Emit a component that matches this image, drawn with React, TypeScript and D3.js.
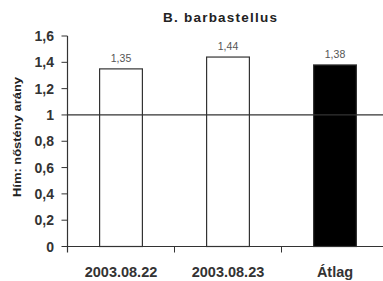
import React from "react";
import * as d3 from "d3";

const categories = ["2003.08.22", "2003.08.23", "Átlag"];
const values = [1.35, 1.44, 1.38];
const valueLabels = ["1,35", "1,44", "1,38"];
const fills = ["#ffffff", "#ffffff", "#000000"];
const yTicks = [0, 0.2, 0.4, 0.6, 0.8, 1, 1.2, 1.4, 1.6];
const refValue = 1;

export default function App() {
  const W = 383, H = 281;
  const x0 = 67.5, top = 36, bottom = 246.5;
  const x = d3.scaleBand().domain(categories).range([x0, x0 + 3 * 107]).paddingInner(0.6).paddingOuter(0.3);
  const y = d3.scaleLinear().domain([0, 1.6]).range([bottom, top]);
  const fmt = (v: number) => (v === 0 || v === 1 ? String(v) : v.toFixed(1).replace(".", ","));
  const step = x.step();
  return (
    <svg width={W} height={H} style={{ position: "absolute", left: 0, top: 0, background: "#fff" }} fontFamily="Liberation Sans, Arial, sans-serif">
      <text x={220} y={22} textAnchor="middle" fontSize={13.5} fontWeight="bold" fill="#222" textLength={114} lengthAdjust="spacing">B. barbastellus</text>
      <text transform={`translate(21,137) rotate(-90)`} textAnchor="middle" fontSize={11} fontWeight="bold" fill="#222" textLength={120} lengthAdjust="spacingAndGlyphs">Hím: nőstény arány</text>
      {yTicks.map((t) => (
        <g key={t}>
          <line x1={x0 - 6} x2={x0} y1={y(t)} y2={y(t)} stroke="#333" />
          <text x={54} y={y(t)} dy="0.36em" textAnchor="end" fontSize={14} fontWeight="bold" fill="#333">{fmt(t)}</text>
        </g>
      ))}
      {categories.map((c, i) => (
        <g key={c}>
          <rect x={x(c)} y={y(values[i])} width={x.bandwidth()} height={bottom - y(values[i])} fill={fills[i]} stroke="#333" strokeWidth={1.2} />
          <text x={(x(c) as number) + x.bandwidth() / 2} y={y(values[i]) - 7} textAnchor="middle" fontSize={10.5} fill="#555">{valueLabels[i]}</text>
          <text x={(x(c) as number) + x.bandwidth() / 2} y={272} dy="0.36em" textAnchor="middle" fontSize={14.5} fontWeight="bold" fill="#333">{c}</text>
          {i > 0 && <line x1={x0 + i * step} x2={x0 + i * step} y1={bottom} y2={bottom + 6} stroke="#333" />}
        </g>
      ))}
      <line x1={x0} x2={W} y1={y(refValue)} y2={y(refValue)} stroke="#333" strokeWidth={1.2} />
      <line x1={x0} x2={x0} y1={top} y2={bottom + 6} stroke="#333" strokeWidth={1.2} />
      <line x1={x0} x2={W} y1={bottom} y2={bottom} stroke="#333" strokeWidth={1.2} />
    </svg>
  );
}
